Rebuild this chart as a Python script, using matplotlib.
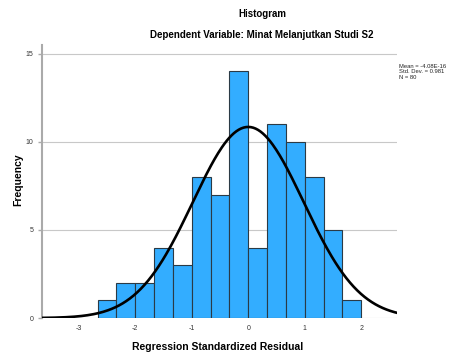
import matplotlib
matplotlib.use("Agg")
import matplotlib.pyplot as plt
import numpy as np

plt.rcParams["font.family"] = ["Liberation Sans", "DejaVu Sans"]
plt.rcParams["axes.unicode_minus"] = False

# ---------------------------------------------------------------------------
# Data
# ---------------------------------------------------------------------------

BIN_LEFT = [-8/3, -7/3, -2, -5/3, -4/3, -1, -2/3, -1/3, 0, 1/3, 2/3, 1, 4/3, 5/3]
COUNTS = [1, 2, 2, 4, 3, 8, 7, 14, 4, 11, 10, 8, 5, 1]
BIN_WIDTH = 1/3

MEAN = -4.08e-16
STD = 0.981
N = 80

X_TICKS = [-3, -2, -1, 0, 1, 2]
Y_TICKS = [0, 5, 10, 15]

fig = plt.figure(figsize=(4.51, 3.59), dpi=100)
ax = fig.add_axes([0.093, 0.114, 0.787, 0.761])

ax.bar(BIN_LEFT, COUNTS, width=BIN_WIDTH, align="edge",
       color="#33adff", edgecolor="#2b3a45", linewidth=0.8, zorder=2)

# Normal curve scaled to counts
xs = np.linspace(-3.7, 2.7, 300)
pdf = N * BIN_WIDTH / (STD * np.sqrt(2 * np.pi)) * np.exp(-0.5 * ((xs - MEAN) / STD) ** 2)
ax.plot(xs, pdf, color="black", linewidth=1.9, zorder=3)

ax.set_xlim(-3.65, 2.63)
ax.set_ylim(0, 15.5)
ax.set_xticks(X_TICKS)
ax.set_yticks(Y_TICKS)
ax.tick_params(axis="both", labelsize=5, colors="#333333", length=0, pad=5)
ax.tick_params(axis="y", length=3, color="#aaaaaa", width=1, pad=3)
for s in ("top", "right", "bottom"):
    ax.spines[s].set_visible(False)
ax.spines["left"].set_color("#aaaaaa")
ax.spines["left"].set_linewidth(1.5)
ax.yaxis.grid(True, color="#c8c8c8", linewidth=0.8, zorder=0)
ax.set_axisbelow(True)

fig.text(0.483, 0.033, "Regression Standardized Residual", ha="center", va="center",
         fontsize=7.5, fontweight="bold")
fig.text(0.04, 0.50, "Frequency", ha="center", va="center", rotation=90,
         fontsize=7.5, fontweight="bold")

fig.text(0.581, 0.96, "Histogram", ha="center", va="center", fontsize=7, fontweight="bold")
fig.text(0.581, 0.902, "Dependent Variable: Minat Melanjutkan Studi S2", ha="center",
         va="center", fontsize=7, fontweight="bold")

fig.text(0.885, 0.80, "Mean = -4.08E-16\nStd. Dev. = 0.981\nN = 80", ha="left", va="center",
         fontsize=4.2, linespacing=1.15, color="#222222")

fig.savefig("out.png", dpi=100, facecolor="white")
